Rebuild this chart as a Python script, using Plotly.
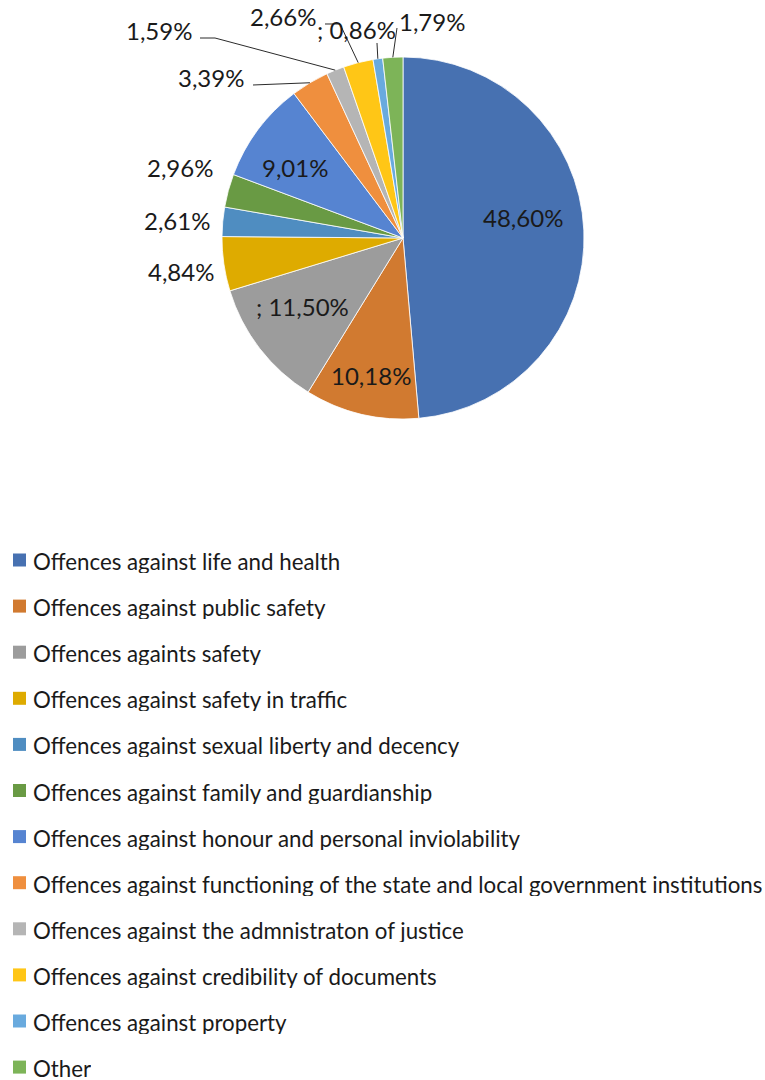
import math
import plotly.graph_objects as go

# Share of convictions by group of offences (%)
categories = [
    "Offences against life and health",
    "Offences against public safety",
    "Offences againts safety",
    "Offences against safety in traffic",
    "Offences against sexual liberty and decency",
    "Offences against family and guardianship",
    "Offences against honour and personal inviolability",
    "Offences against functioning of the state and local government institutions",
    "Offences against the admnistraton of justice",
    "Offences against credibility of documents",
    "Offences against property",
    "Other",
]
shares = [48.60, 10.18, 11.50, 4.84, 2.61, 2.96, 9.01, 3.39, 1.59, 2.66, 0.86, 1.79]
label_prefix = ["", "", "; ", "", "", "", "", "", "", "", "; ", ""]

colors = [
    "#4771B1", "#D17A30", "#9C9C9C", "#DEAB00", "#4F8DC1", "#699A44",
    "#5684D1", "#EF8F3E", "#B5B5B5", "#FFC616", "#69AADE", "#7DB458",
]

W, H = 765, 1080
CX, CY, R = 403, 238, 181  # pie centre and radius in px
FONT = "Lato, Open Sans, sans-serif"


def px(x):
    return x / W


def py(y):
    return 1 - y / H


def fmt(v):
    return f"{v:.2f}".replace(".", ",") + "%"


fig = go.Figure(
    go.Pie(
        labels=categories,
        values=shares,
        sort=False,
        direction="clockwise",
        rotation=0,
        marker=dict(colors=colors, line=dict(color="white", width=0.8)),
        textinfo="none",
        hoverinfo="label+percent",
        showlegend=False,
        domain=dict(x=[px(CX - R), px(CX + R)], y=[py(CY + R), py(CY - R)]),
    )
)

# label centres (px) for each slice, inside or outside the pie
label_pos = [
    (523, 218), (371, 376), (302, 306), (181, 271), (177, 220), (180, 167),
    (295, 167), (211, 77), (159, 30), (283, 17), (356, 29), (432, 21),
]
# elbow points of the leader lines for the outside labels
leader_elbows = {
    7: [(253, 85)],
    8: [(200, 38), (215, 38)],
    9: [(325, 24), (340, 24)],
    10: [(377, 43)],
    11: [(397, 28)],
}

annotations = []
for i, v in enumerate(shares):
    x, y = label_pos[i]
    annotations.append(dict(
        x=px(x), y=py(y), xref="paper", yref="paper",
        text=label_prefix[i] + fmt(v), showarrow=False,
        xanchor="center", yanchor="middle",
        font=dict(family=FONT, size=24, color="#1a1a1a"),
    ))

shapes = []
total = sum(shares)
cum = 0.0
for i, v in enumerate(shares):
    mid = (cum + v / 2) / total * 2 * math.pi
    cum += v
    if i not in leader_elbows:
        continue
    ex = CX + R * math.sin(mid)
    ey = CY - R * math.cos(mid)
    pts = leader_elbows[i] + [(ex, ey)]
    path = "M " + " L ".join(f"{px(a):.5f},{py(b):.5f}" for a, b in pts)
    shapes.append(dict(type="path", path=path, xref="paper", yref="paper",
                       line=dict(color="#2b2b2b", width=1)))

# legend drawn as a column of swatches and labels
LEG_X, LEG_Y0, LEG_DY, SW = 13, 560, 46.1, 13
for i, name in enumerate(categories):
    yc = LEG_Y0 + i * LEG_DY
    shapes.append(dict(
        type="rect", xref="paper", yref="paper",
        x0=px(LEG_X), x1=px(LEG_X + SW), y0=py(yc + SW / 2), y1=py(yc - SW / 2),
        fillcolor=colors[i], line=dict(width=0),
    ))
    annotations.append(dict(
        x=px(31), y=py(yc + 1), xref="paper", yref="paper",
        text=name, showarrow=False, xanchor="left", yanchor="middle",
        height=24, valign="middle",
        font=dict(family=FONT, size=22.3, color="#1a1a1a"),
    ))

fig.update_layout(
    width=W, height=H, autosize=False,
    margin=dict(l=0, r=0, t=0, b=0),
    paper_bgcolor="white", plot_bgcolor="white",
    annotations=annotations, shapes=shapes,
)

fig.write_html("out.html")
